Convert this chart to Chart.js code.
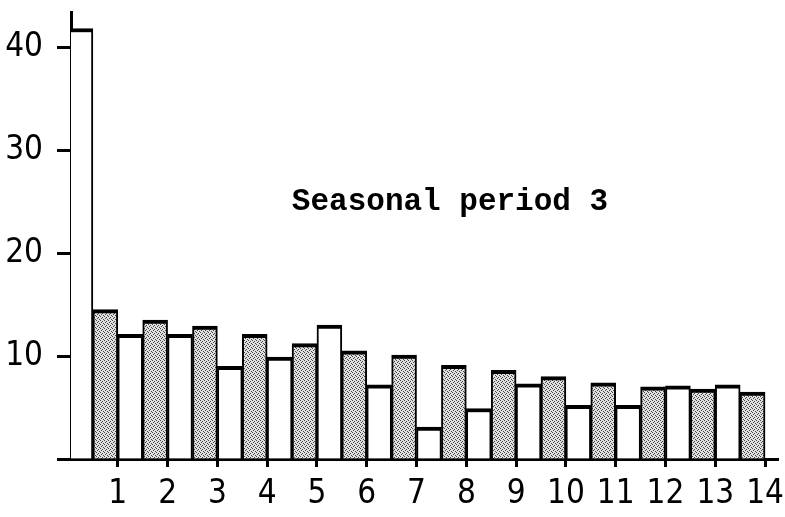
<!DOCTYPE html>
<html>
<head>
<meta charset="utf-8">
<script src="https://cdn.jsdelivr.net/npm/chart.js@4.4.1/dist/chart.umd.min.js"></script>
<style>
  html, body { margin: 0; padding: 0; background: #fff; }
  #wrap { position: relative; width: 785px; height: 517px; }
</style>
</head>
<body>
<div id="wrap"><canvas id="myChart"></canvas></div>
<script>
// lags shown on the x axis
const lagLabels = [1, 2, 3, 4, 5, 6, 7, 8, 9, 10, 11, 12, 13, 14];
// white bars: lags 0..13 (drawn just right of each lag tick)
const whiteLags = [0, 1, 2, 3, 4, 5, 6, 7, 8, 9, 10, 11, 12, 13];
const whiteValues = [41.8, 12.1, 12.1, 9.0, 9.9, 13.0, 7.2, 3.1, 4.9, 7.3, 5.2, 5.2, 7.1, 7.2];
// stippled bars: lags 1..14 (drawn just left of each lag tick)
const grayLags = [1, 2, 3, 4, 5, 6, 7, 8, 9, 10, 11, 12, 13, 14];
const grayValues = [14.5, 13.5, 12.9, 12.1, 11.2, 10.5, 10.1, 9.1, 8.6, 8.0, 7.4, 7.0, 6.8, 6.5];
const yTickValues = [10, 20, 30, 40];
const chartNote = 'Seasonal period 3';

const labelFont = "'Liberation Sans Narrow', 'DejaVu Sans Condensed', 'Arial Narrow', sans-serif";

// стиплинг для серых столбцов
function makeStipple(ctx) {
    const c = document.createElement('canvas');
    c.width = 4; c.height = 4;
    const p = c.getContext('2d');
    p.fillStyle = '#e0e0e0';
    p.fillRect(0, 0, 4, 4);
    p.fillStyle = '#444';
    [[0, 0], [2, 1], [1, 2], [3, 3]].forEach(([x, y]) => p.fillRect(x, y, 1, 1));
    return ctx.createPattern(c, 'repeat');
}

// подпись внутри графика
const notePlugin = {
    id: 'notePlugin',
    afterDraw(chart) {
        const { ctx, chartArea } = chart;
        ctx.save();
        ctx.font = "bold 31px 'Liberation Mono', 'Courier New', monospace";
        ctx.fillStyle = '#000';
        ctx.textAlign = 'center';
        ctx.textBaseline = 'middle';
        ctx.fillText(chartNote, chartArea.left + 379, chartArea.top + 190);
        ctx.restore();
    }
};

const ctx = document.getElementById('myChart').getContext('2d');
const stipple = makeStipple(ctx);

const barStyle = {
    borderColor: '#000',
    borderWidth: { top: 4, left: 2, right: 2, bottom: 0 },
    borderSkipped: 'bottom',
    barPercentage: 1,
    categoryPercentage: 1,
    grouped: false
};

new Chart(ctx, {
    type: 'bar',
    data: {
        datasets: [
            Object.assign({
                label: 'white',
                data: whiteLags.map((lag, i) => ({ x: lag + 0.25, y: whiteValues[i] })),
                backgroundColor: '#fff'
            }, barStyle),
            Object.assign({
                label: 'stippled',
                data: grayLags.map((lag, i) => ({ x: lag - 0.25, y: grayValues[i] })),
                backgroundColor: stipple
            }, barStyle)
        ]
    },
    options: {
        responsive: true,
        maintainAspectRatio: false,
        animation: false,
        layout: { padding: { left: 0, right: 7, top: 12, bottom: 0 } },
        plugins: {
            legend: { display: false },
            tooltip: { enabled: false }
        },
        scales: {
            x: {
                type: 'linear',
                offset: false,
                min: 0.06,
                max: 14.26,
                border: { display: true, color: '#000', width: 3 },
                grid: {
                    offset: false,
                    drawOnChartArea: false,
                    drawTicks: true,
                    tickLength: 8,
                    tickWidth: 3,
                    tickColor: '#000'
                },
                ticks: {
                    stepSize: 1,
                    includeBounds: false,
                    autoSkip: false,
                    maxRotation: 0,
                    padding: 8,
                    color: '#000',
                    font: { family: labelFont, size: 33 },
                    callback: v => lagLabels.includes(v) ? String(v) : ''
                },
                afterFit: s => { s.height = 58; s.paddingLeft = 0; s.paddingRight = 0; }
            },
            y: {
                min: 0,
                max: 43.4,
                border: { display: true, color: '#000', width: 3 },
                grid: {
                    drawOnChartArea: false,
                    drawTicks: true,
                    tickLength: 14,
                    tickWidth: 3,
                    tickColor: '#000'
                },
                ticks: {
                    stepSize: 10,
                    includeBounds: false,
                    padding: 14,
                    color: '#000',
                    font: { family: labelFont, size: 33 },
                    callback: v => yTickValues.includes(v) ? String(v) : ''
                },
                afterFit: s => { s.width = 71; s.paddingTop = 0; s.paddingBottom = 0; }
            }
        }
    },
    plugins: [notePlugin]
});
</script>
</body>
</html>
